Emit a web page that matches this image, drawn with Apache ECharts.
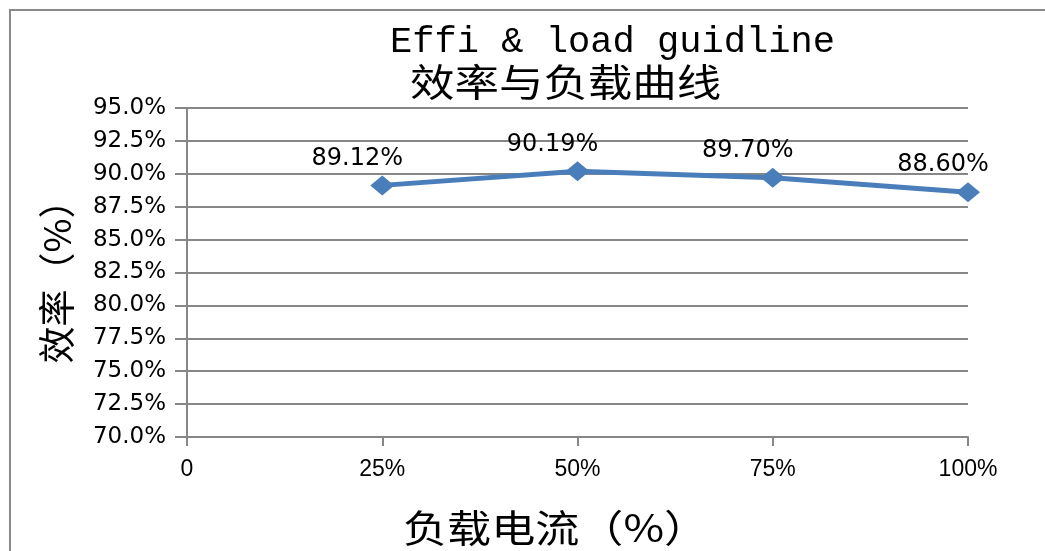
<!DOCTYPE html>
<html>
<head>
<meta charset="utf-8">
<script src="https://cdn.jsdelivr.net/npm/echarts@6/dist/echarts.min.js"></script>
<style>
  html, body { margin: 0; padding: 0; background: #fff; }
  #chart { width: 1045px; height: 551px; }
</style>
</head>
<body>
<div id="chart"></div>
<script>
  // load points (%) and efficiency (%)
  const loadPoints = [25, 50, 75, 100];
  const effiValues = [89.12, 90.19, 89.70, 88.60];
  const xTickLabels = ['0', '25%', '50%', '75%', '100%'];

  const gridColor = '#878787';

  let chart = echarts.init(document.getElementById('chart'));
  chart.setOption({
    animation: false,
    graphic: [{
      type: 'rect',
      shape: { x: 10, y: 10, width: 1100, height: 600 },
      style: { fill: 'none', stroke: '#8a8a8a', lineWidth: 2 }
    }, {
      type: 'text',
      x: 390, y: 24, scaleX: 1.03,
      style: {
        text: 'Effi & load guidline', verticalAlign: 'top',
        font: '36px "Liberation Mono", monospace', fill: '#000'
      }
    }, {
      type: 'text',
      x: 410, y: 63, scaleX: 1.17,
      style: {
        text: '效率与负载曲线', verticalAlign: 'top',
        font: '38px "Noto Sans CJK SC"', fill: '#000'
      }
    }, {
      type: 'text',
      x: 403, y: 509, scaleX: 1.16,
      style: {
        text: '负载电流（%）', verticalAlign: 'top',
        font: '38px "Noto Sans CJK SC"', fill: '#000'
      }
    }],
    grid: { left: 187, right: 77, top: 108, bottom: 114 },
    xAxis: {
      type: 'value',
      min: 0, max: 100, interval: 25,
      axisLine: { show: true, lineStyle: { color: gridColor, width: 2 } },
      axisTick: { show: true, length: 9, lineStyle: { color: gridColor, width: 2 } },
      splitLine: { show: false },
      axisLabel: {
        margin: 21,
        fontSize: 23, color: '#000', fontFamily: 'Liberation Sans',
        formatter: v => xTickLabels[Math.round(v / 25)]
      }
    },
    yAxis: {
      type: 'value',
      min: 70, max: 95, interval: 2.5,
      name: '效率（%）',
      nameLocation: 'middle',
      nameRotate: 90,
      nameGap: 112,
      nameTextStyle: { fontSize: 37, fontFamily: 'Noto Sans CJK SC', color: '#000' },
      axisLine: { show: true, lineStyle: { color: gridColor, width: 2 } },
      axisTick: { show: true, length: 12, lineStyle: { color: gridColor, width: 2 } },
      splitLine: { show: true, lineStyle: { color: gridColor, width: 2 } },
      axisLabel: {
        margin: 21,
        fontSize: 23, color: '#000', fontFamily: 'DejaVu Sans',
        formatter: v => v.toFixed(1) + '%'
      }
    },
    series: [{
      type: 'line',
      data: loadPoints.map((x, i) => [x, effiValues[i]]),
      lineStyle: { color: '#4a7ebb', width: 5 },
      itemStyle: { color: '#4a7ebb' },
      symbol: 'diamond',
      symbolSize: [24, 20],
      label: {
        show: true, position: 'top', offset: [-25, 0],
        fontSize: 24, color: '#000', fontFamily: 'DejaVu Sans',
        formatter: p => p.value[1].toFixed(2) + '%'
      }
    }]
  });
</script>
</body>
</html>
